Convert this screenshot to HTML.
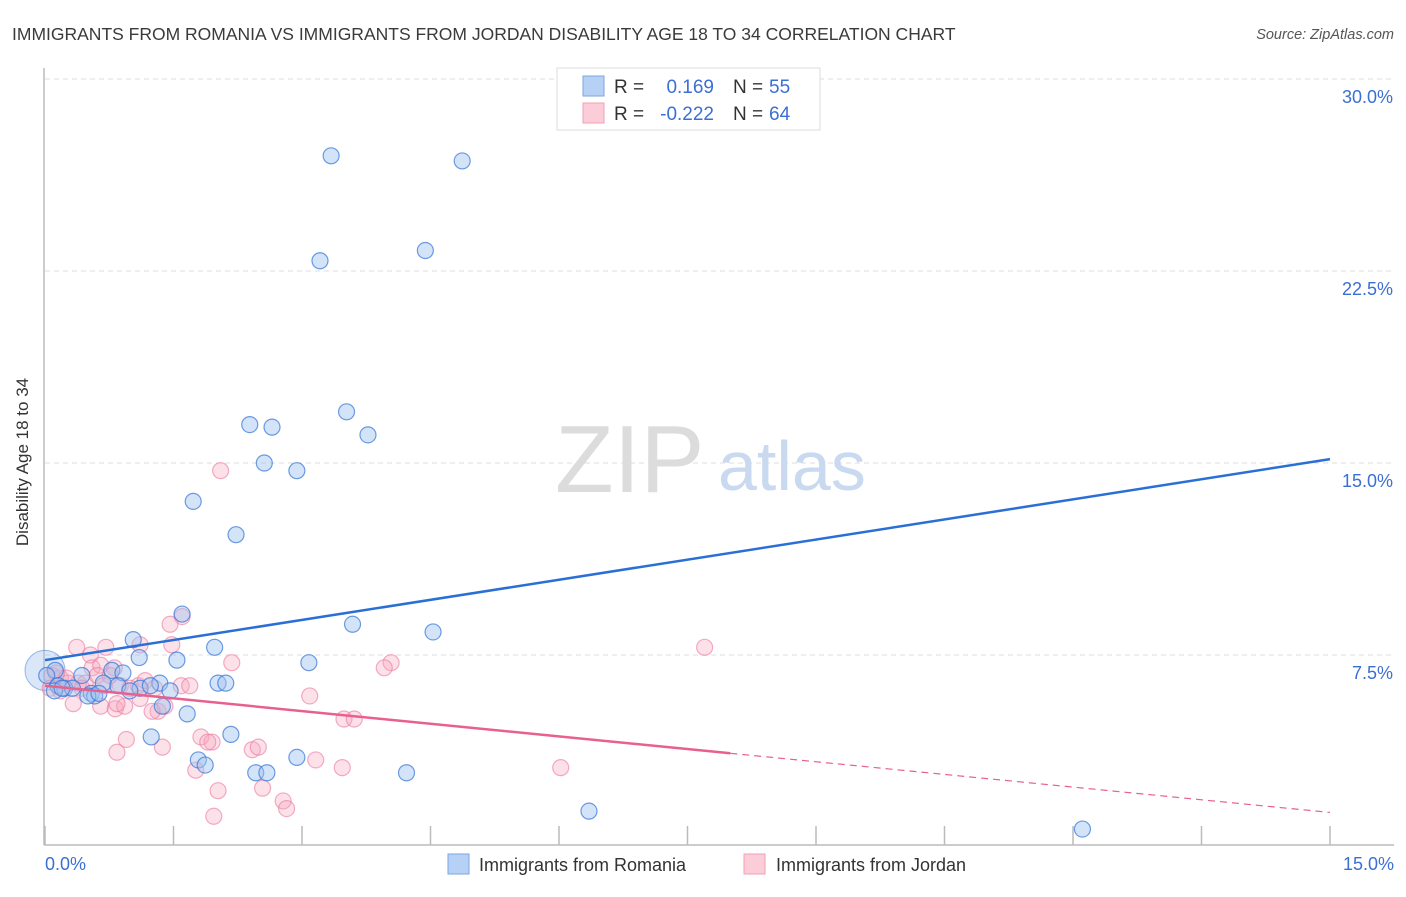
<!DOCTYPE html>
<html><head><meta charset="utf-8"><style>
body{margin:0;background:#fff;font-family:"Liberation Sans",sans-serif;}
svg text{font-family:"Liberation Sans",sans-serif;}
</style></head><body>
<svg width="1406" height="892" viewBox="0 0 1406 892">
<text x="12" y="40" font-size="17.5" fill="#3a3a3a">IMMIGRANTS FROM ROMANIA VS IMMIGRANTS FROM JORDAN DISABILITY AGE 18 TO 34 CORRELATION CHART</text>
<text x="1394" y="39" font-size="14.5" fill="#555" text-anchor="end" font-style="italic">Source: ZipAtlas.com</text>
<g id="grid"></g>
<text x="555" y="492" font-size="96" fill="#dcdcdc" font-family="Liberation Serif">ZIP</text>
<text x="718" y="490" font-size="70" fill="#c8d9f0">atlas</text>
<line x1="44" y1="68" x2="44" y2="845" stroke="#bbb" stroke-width="1.5"/>
<line x1="44" y1="845" x2="1394" y2="845" stroke="#bbb" stroke-width="1.5"/>
<g id="xticks"></g>
<g id="pts"></g>
<g id="lines"></g>
<text x="22" y="456" font-size="17" fill="#333" text-anchor="middle" transform="rotate(-90 28 456)">Disability Age 18 to 34</text>
<text x="45" y="870" font-size="18" fill="#3b6fd4">0.0%</text>
<text x="1394" y="870" font-size="18" fill="#3b6fd4" text-anchor="end">15.0%</text>
<g>
<rect x="557" y="68" width="263" height="62" fill="#fff" stroke="#ddd"/>
<rect x="583" y="76" width="21" height="20" fill="#b6d1f5" stroke="#7ea6e0"/>
<rect x="583" y="103" width="21" height="20" fill="#fbcdd9" stroke="#f0a0b8"/>
<text x="614" y="93" font-size="19" fill="#333">R =</text><text x="714" y="93" font-size="19" fill="#3b6fd4" text-anchor="end">0.169</text>
<text x="733" y="93" font-size="19" fill="#333">N =</text><text x="769" y="93" font-size="19" fill="#3b6fd4">55</text>
<text x="614" y="120" font-size="19" fill="#333">R =</text><text x="714" y="120" font-size="19" fill="#3b6fd4" text-anchor="end">-0.222</text>
<text x="733" y="120" font-size="19" fill="#333">N =</text><text x="769" y="120" font-size="19" fill="#3b6fd4">64</text>
</g>
<g>
<rect x="448" y="854" width="21" height="20" fill="#b6d1f5" stroke="#7ea6e0"/>
<text x="479" y="871" font-size="18" fill="#333">Immigrants from Romania</text>
<rect x="744" y="854" width="21" height="20" fill="#fbcdd9" stroke="#f0a0b8"/>
<text x="776" y="871" font-size="18" fill="#333">Immigrants from Jordan</text>
</g>
</svg>
<script>
const yTicks=[7.5,15,22.5,30];
const yTickLabels=["7.5%","15.0%","22.5%","30.0%"];
const xTickVals=[0,1.5,3,4.5,6,7.5,9,10.5,12,13.5,15];
const romaniaX=[3.34,4.87,3.21,4.44,3.52,2.39,2.65,3.77,2.56,2.94,1.73,2.23,1.6,3.59,4.53,1.03,1.98,1.1,1.54,3.08,0.78,0.43,0.91,0.12,0.02,1.34,2.02,2.11,0.68,0.85,1.11,0.15,0.23,0.32,0.54,0.58,1.46,0.99,1.66,1.24,2.17,1.79,1.87,2.46,2.59,2.94,4.22,6.35,12.11,0.11,0.2,0.5,0.63,1.23,1.37];
const romaniaY=[27.0,26.8,22.9,23.3,17.0,16.5,16.4,16.1,15.0,14.7,13.5,12.2,9.1,8.7,8.4,8.1,7.8,7.4,7.3,7.2,6.9,6.7,6.8,6.9,6.7,6.4,6.4,6.4,6.4,6.3,6.2,6.3,6.2,6.2,6.0,5.9,6.1,6.1,5.2,4.3,4.4,3.4,3.2,2.9,2.9,3.5,2.9,1.4,0.7,6.1,6.2,5.9,6.0,6.3,5.5];
const jordanX=[2.05,1.6,1.46,0.37,0.71,1.11,1.48,0.53,0.55,0.65,0.81,2.18,4.04,3.96,7.7,0.88,1.09,0.08,0.18,0.27,0.06,0.39,0.47,0.99,1.17,1.28,1.59,1.69,3.09,1.11,0.33,0.65,0.82,0.93,1.32,1.4,3.49,3.61,0.84,0.95,1.37,1.82,1.95,0.84,1.9,2.42,2.49,3.16,3.47,1.76,6.02,2.02,2.54,2.78,2.82,1.97,0.43,0.13,1.25,0.18,0.61,0.68,0.25,0.76];
const jordanY=[14.7,9.0,8.7,7.8,7.8,7.9,7.9,7.5,7.0,7.1,7.0,7.2,7.2,7.0,7.8,6.3,6.3,6.7,6.6,6.4,6.2,6.4,6.4,6.2,6.5,6.2,6.3,6.3,5.9,5.8,5.6,5.5,5.4,5.5,5.3,5.5,5.0,5.0,5.6,4.2,3.9,4.3,4.1,3.7,4.1,3.8,3.9,3.4,3.1,3.0,3.1,2.2,2.3,1.8,1.5,1.2,6.2,6.8,5.3,6.1,6.7,6.3,6.6,6.7];
const romaniaFit=[7.3,15.15]; // y at x=0 and x=15
const jordanFit=[6.3,1.35];
const jordanSolidEnd=8.0;
const NS='http://www.w3.org/2000/svg';
const X=v=>45+v/15*1285, Y=v=>847-v/7.5*192;
function mk(tag,attrs,parent){const e=document.createElementNS(NS,tag);for(const k in attrs)e.setAttribute(k,attrs[k]);parent.appendChild(e);return e;}
const grid=document.getElementById('grid');
yTicks.forEach((t,i)=>{
 const l=mk('line',{x1:45,x2:1394,y1:Y(t),y2:Y(t),stroke:'#ddd','stroke-dasharray':'5,4'},grid);
 
 
 const tx=mk('text',{x:1393,y:Y(t)+24,'font-size':18,fill:'#3b6fd4','text-anchor':'end'},grid);
 tx.textContent=yTickLabels[i];
 
 
});
const xt=document.getElementById('xticks');
xTickVals.forEach(v=>{
 const l=mk('line',{x1:X(v),x2:X(v),y1:826,y2:845,stroke:'#bbb','stroke-width':1.5},xt);
 
 
});
const pts=document.getElementById('pts');
const big=mk('circle',{cx:X(0),cy:Y(6.9),r:20,fill:'rgba(160,195,240,0.4)',stroke:'rgba(60,120,220,0.5)'},pts);


jordanX.forEach((x,i)=>{
 const c=mk('circle',{cx:X(x),cy:Y(jordanY[i]),r:8,fill:'rgba(246,170,192,0.35)',stroke:'rgba(235,120,160,0.6)','stroke-width':1.2},pts);
 
 
});
romaniaX.forEach((x,i)=>{
 const c=mk('circle',{cx:X(x),cy:Y(romaniaY[i]),r:8,fill:'rgba(160,195,240,0.45)',stroke:'rgba(50,115,215,0.7)','stroke-width':1.2},pts);
 
 
});
const ln=document.getElementById('lines');
const jAt=x=>jordanFit[0]+(jordanFit[1]-jordanFit[0])*x/15;
let a=mk('line',{x1:X(0),y1:Y(romaniaFit[0]),x2:X(15),y2:Y(romaniaFit[1]),stroke:'#2a6fd6','stroke-width':2.5},ln);


let b=mk('line',{x1:X(0),y1:Y(jAt(0)),x2:X(jordanSolidEnd),y2:Y(jAt(jordanSolidEnd)),stroke:'#e8608e','stroke-width':2.5},ln);


let c=mk('line',{x1:X(jordanSolidEnd),y1:Y(jAt(jordanSolidEnd)),x2:X(15),y2:Y(jAt(15)),stroke:'#e8608e','stroke-width':1.2,'stroke-dasharray':'7,5'},ln);


</script>
</body></html>
